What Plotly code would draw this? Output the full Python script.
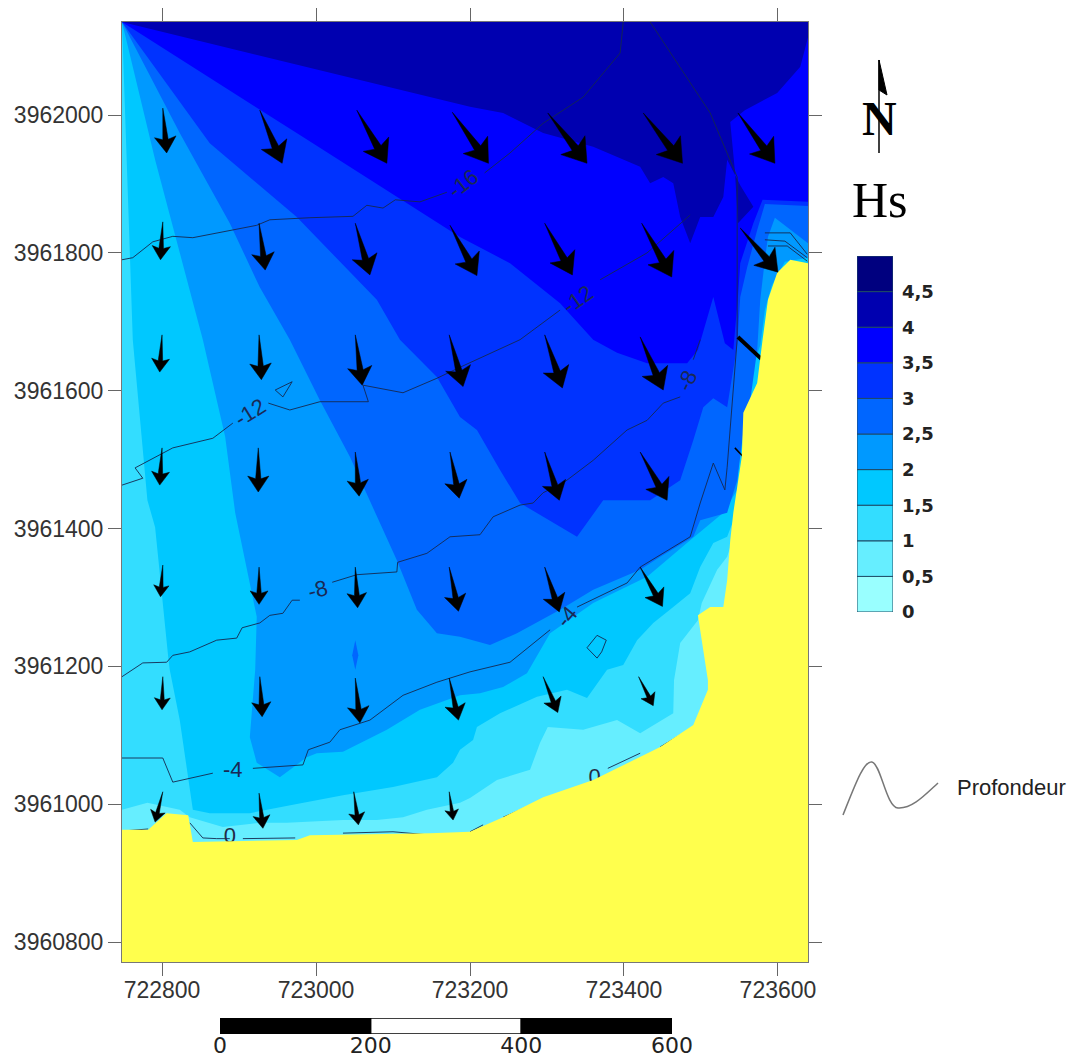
import math
import plotly.graph_objects as go

W, H = 1072, 1061
X_RANGE = [722748, 723639]
Y_RANGE = [3960771, 3962135]
CORNER_X, CORNER_Y = 722748, 3962135
RIGHT_X = 723639

# Hs legend
hs_levels = [0, 0.5, 1, 1.5, 2, 2.5, 3, 3.5, 4, 4.5]
hs_step = [0.5] * 10
hs_labels = ["0", "0,5", "1", "1,5", "2", "2,5", "3", "3,5", "4", "4,5"]
hs_colors = ["#99FFFF", "#66EEFF", "#33DDFF", "#00C8FF", "#0099FF",
             "#0066FF", "#0033FF", "#0000FF", "#0000B0", "#00007F"]

# Regions where Hs >= level (UTM metres), traced from the top right corner back to the top left corner
hs1_x = [723639, 723639, 723557, 723534, 723521, 723501, 723496, 723473, 723465, 723464, 723421, 723391, 723347, 723301, 723291, 723278, 723235, 723200, 723187, 723144, 723113, 723079, 723035, 722962, 722927, 722879, 722836, 722823, 722781, 722748]
hs1_y = [3962135, 3961732, 3961441, 3961359, 3961340, 3961292, 3961267, 3961234, 3961180, 3961132, 3961103, 3961122, 3961108, 3961112, 3961089, 3961050, 3961035, 3961009, 3961002, 3960992, 3960981, 3960977, 3960977, 3960973, 3960973, 3960967, 3960981, 3960992, 3961002, 3960992]

hs15_x = [723639, 723639, 723577, 723534, 723516, 723499, 723486, 723464, 723438, 723417, 723399, 723378, 723352, 723326, 723287, 723239, 723209, 723204, 723187, 723178, 723157, 723100, 723035, 722970, 722914, 722862, 722840, 722823, 722810, 722808, 722791, 722781, 722762]
hs15_y = [3962135, 3961732, 3961514, 3961388, 3961379, 3961344, 3961306, 3961286, 3961263, 3961238, 3961202, 3961195, 3961154, 3961166, 3961156, 3961132, 3961112, 3961093, 3961079, 3961060, 3961039, 3961025, 3961013, 3960999, 3960987, 3960987, 3960992, 3961122, 3961195, 3961214, 3961402, 3961441, 3961674]

hs2_x = [723639, 723639, 723609, 723592, 723583, 723577, 723566, 723557, 723551, 723547, 723529, 723486, 723430, 723360, 723304, 723274, 723243, 723213, 723187, 723135, 723092, 723035, 723001, 722988, 722953, 722923, 722914, 722921, 722923, 722895, 722882, 722853, 722791]
hs2_y = [3962135, 3961793, 3961787, 3961753, 3961717, 3961666, 3961630, 3961586, 3961528, 3961456, 3961423, 3961383, 3961330, 3961292, 3961248, 3961190, 3961170, 3961161, 3961158, 3961137, 3961108, 3961076, 3961074, 3961068, 3961039, 3961060, 3961097, 3961195, 3961272, 3961423, 3961533, 3961674, 3961935]

hs25_x = [723639, 723639, 723596, 723587, 723583, 723577, 723573, 723564, 723557, 723551, 723547, 723534, 723499, 723490, 723447, 723421, 723360, 723317, 723261, 723226, 723187, 723157, 723131, 723105, 723044, 723005, 722966, 722927, 722888, 722823]
hs25_y = [3962135, 3961814, 3961851, 3961823, 3961790, 3961732, 3961659, 3961586, 3961557, 3961504, 3961470, 3961423, 3961412, 3961388, 3961359, 3961340, 3961311, 3961282, 3961248, 3961231, 3961243, 3961248, 3961282, 3961354, 3961504, 3961586, 3961674, 3961750, 3961843, 3961974]

hs25_patch_x = [723051, 723055, 723051, 723047]
hs25_patch_y = [3961238, 3961216, 3961195, 3961216]

hs3_x = [723639, 723639, 723583, 723573, 723560, 723551, 723547, 723534, 723516, 723503, 723490, 723473, 723434, 723373, 723339, 723265, 723239, 723209, 723187, 723157, 723109, 723079, 722975, 722862]
hs3_y = [3962135, 3961868, 3961871, 3961833, 3961779, 3961736, 3961666, 3961576, 3961589, 3961576, 3961528, 3961470, 3961441, 3961441, 3961388, 3961437, 3961485, 3961543, 3961562, 3961620, 3961674, 3961732, 3961852, 3961959]

hs35_x = [723639, 723639, 723580, 723568, 723551, 723548, 723542, 723531, 723516, 723496, 723482, 723430, 723391, 723360, 723317, 723252, 723187, 722979]
hs35_y = [3962135, 3961874, 3961877, 3961843, 3961785, 3961736, 3961659, 3961669, 3961736, 3961659, 3961640, 3961640, 3961655, 3961674, 3961727, 3961785, 3961823, 3961971]

hs4_x = [723639, 723639, 723629, 723599, 723557, 723538, 723544, 723548, 723568, 723551, 723534, 723529, 723516, 723499, 723486, 723473, 723464, 723451, 723434, 723421, 723360, 723295, 723243, 723200]
hs4_y = [3962135, 3962113, 3962070, 3962032, 3962007, 3961990, 3961920, 3961843, 3961867, 3961898, 3961935, 3961881, 3961852, 3961852, 3961814, 3961852, 3961901, 3961910, 3961901, 3961925, 3961954, 3961974, 3962003, 3962012]

land_x = [723639, 723616, 723599, 723587, 723580, 723573, 723555, 723553, 723542, 723538, 723534, 723529, 723512, 723496, 723509, 723509, 723490, 723447, 723360, 723295, 723243, 723200, 723148, 722992, 722975, 722840, 722834, 722806, 722782, 722748, 722748, 723639]
land_y = [3961785, 3961790, 3961771, 3961732, 3961674, 3961611, 3961568, 3961504, 3961423, 3961383, 3961325, 3961286, 3961286, 3961274, 3961180, 3961166, 3961115, 3961083, 3961035, 3961010, 3960981, 3960960, 3960958, 3960955, 3960948, 3960945, 3960984, 3960987, 3960963, 3960963, 3960771, 3960771]

# Depth contours, segments split where the labels sit
depth_m16_x = [[722748, 722762, 722788, 722814, 722840, 722892, 722923, 722940, 722992, 723048, 723066, 723087, 723103, 723135, 723170],
               [723219, 723252, 723295, 723347, 723395, 723399],
               [723434, 723512, 723547, 723547]]
depth_m16_y = [[3961790, 3961793, 3961816, 3961824, 3961822, 3961833, 3961840, 3961848, 3961851, 3961853, 3961869, 3961865, 3961877, 3961874, 3961888],
               [3961916, 3961945, 3961988, 3962026, 3962090, 3962135],
               [3962135, 3962003, 3961910, 3961843]]
depth_m12_x = [[722748, 722775, 722765, 722814, 722866, 722892],
               [722938, 722966, 723005, 723068, 723061, 723113, 723157, 723187, 723265, 723317],
               [723369, 723430, 723486]]
depth_m12_y = [[3961463, 3961473, 3961488, 3961517, 3961531, 3961553],
               [3961582, 3961572, 3961584, 3961584, 3961608, 3961597, 3961618, 3961634, 3961674, 3961717],
               [3961761, 3961800, 3961855]]
depth_m8_x = [[722748, 722775, 722806, 722814, 722836, 722871, 722897, 722904, 722927, 722940, 722957, 722969, 722979],
              [723021, 723053, 723105, 723106, 723144, 723174, 723213, 723230, 723265, 723282, 723295, 723321, 723360, 723404, 723430, 723451, 723473],
              [723490, 723499]]
depth_m8_y = [[3961185, 3961205, 3961206, 3961216, 3961221, 3961238, 3961241, 3961256, 3961263, 3961274, 3961277, 3961296, 3961296],
              [3961322, 3961333, 3961337, 3961351, 3961364, 3961388, 3961391, 3961417, 3961434, 3961437, 3961452, 3961466, 3961499, 3961543, 3961557, 3961582, 3961591],
              [3961645, 3961674]]
depth_m4_x = [[722748, 722801, 722814, 722866],
              [722918, 722983, 722990, 723018, 723031, 723070, 723113, 723157, 723200, 723252, 723304],
              [723339, 723404, 723421, 723486, 723499, 723516, 723531, 723534, 723547, 723547]]
depth_m4_y = [[3961067, 3961067, 3961032, 3961045],
              [3961052, 3961057, 3961079, 3961090, 3961108, 3961122, 3961158, 3961177, 3961192, 3961206, 3961253],
              [3961286, 3961321, 3961344, 3961388, 3961437, 3961495, 3961456, 3961489, 3961674, 3961843]]
depth_0_x = [[722748, 722782], [722836, 722853, 722871, 722888], [722905, 722973], [723035, 723100, 723151],
             [723200, 723217], [723243, 723265, 723288], [723379, 723421], [723447, 723490]]
depth_0_y = [[3960961, 3960964], [3960973, 3960951, 3960950, 3960950], [3960950, 3960951], [3960958, 3960960, 3960955],
             [3960960, 3960970], [3960981, 3960992, 3961003], [3961052, 3961074], [3961083, 3961112]]
depth_small_x = [[722947, 722969, 722957, 722947], [723352, 723365, 723377, 723371, 723365, 723352],
                 [723583, 723609, 723638], [723587, 723612, 723638], [723583, 723616, 723638]]
depth_small_y = [[3961601, 3961613, 3961591, 3961601], [3961227, 3961245, 3961238, 3961221, 3961212, 3961227],
                 [3961819, 3961817, 3961793], [3961810, 3961810, 3961788], [3961829, 3961829, 3961798]]

label_text = ["-16", "-12", "-12", "-8", "-8", "-4", "-4"]
label_x = [723191, 722914, 723340, 723003, 723482, 722892, 723326]
label_y = [3961901, 3961569, 3961732, 3961311, 3961615, 3961050, 3961272]
label_angle = [-38, -32, -35, -15, -65, 0, -50]
zero_label_x = [722888, 723362]
zero_label_y = [3960951, 3961038]
zero_label_text = ["0", "0"]

# Wave direction arrows: tail position and displacement in metres
arrow_x = [722801, 722927, 723053, 723177, 723301, 723425, 723548,
           722801, 722926, 723051, 723174, 723297, 723423, 723551,
           722800, 722926, 723051, 723173, 723297, 723421,
           722800, 722925, 723051, 723174, 723297, 723421,
           722801, 722926, 723051, 723173, 723297, 723421,
           722801, 722927, 723051, 723173, 723295, 723419,
           722801, 722926, 723049, 723173]
arrow_y = [3962010, 3962007, 3962007, 3962004, 3962003, 3962003, 3962003,
           3961845, 3961843, 3961843, 3961840, 3961843, 3961843, 3961836,
           3961681, 3961681, 3961681, 3961681, 3961681, 3961678,
           3961517, 3961517, 3961511, 3961511, 3961511, 3961511,
           3961347, 3961344, 3961344, 3961344, 3961344, 3961344,
           3961185, 3961185, 3961183, 3961183, 3961185, 3961185,
           3961018, 3961016, 3961018, 3961018]
arrow_u = [5, 29, 39, 47, 51, 51, 48,
           -3, 8, 19, 35, 36, 39, 49,
           -3, 3, 9, 18, 23, 30,
           -3, 0, 5, 12, 19, 35,
           -3, 0, 3, 12, 19, 29,
           -1, 3, 6, 12, 19, 19,
           -10, 5, 6, 5]
arrow_v = [-65, -77, -77, -74, -73, -73, -73,
           -55, -68, -75, -73, -75, -78, -64,
           -54, -65, -73, -75, -77, -77,
           -54, -64, -64, -67, -70, -70,
           -46, -54, -59, -64, -65, -57,
           -48, -58, -65, -61, -52, -42,
           -44, -51, -48, -41]
# Arrows on the shore, mostly covered by the land
buried_x = [[723548, 723590], [723544, 723561]]
buried_y = [[3961678, 3961634], [3961517, 3961497]]
buried_width = [4, 1.5]

scale_base = [0, 200, 400]
scale_len = [200, 200, 200]
scale_colors = ["black", "white", "black"]
scale_ticks = [0, 200, 400, 600]

PLOT_L, PLOT_R, PLOT_T, PLOT_B = 122, 808, 22, 962
SX = (PLOT_R - PLOT_L) / (X_RANGE[1] - X_RANGE[0])
SY = (PLOT_B - PLOT_T) / (Y_RANGE[1] - Y_RANGE[0])


def px(x):
    return x / W


def py(y):
    return 1 - y / H


def arrow_polys():
    xs, ys = [], []
    for x0, y0, u, v in zip(arrow_x, arrow_y, arrow_u, arrow_v):
        dx, dy = u * SX, v * SY
        L = math.hypot(dx, dy)
        ax, ay = dx / L, dy / L
        nx, ny = -ay, ax
        outline = [(0, 0), (0.70, 0.06), (0.64, 0.24), (1, 0), (0.64, -0.24), (0.70, -0.06), (0, 0)]
        for a, n in outline:
            xs.append(x0 + (ax * a * L + nx * n * L) / SX)
            ys.append(y0 + (ay * a * L + ny * n * L) / SY)
        xs.append(None)
        ys.append(None)
    return xs, ys


def joined(parts):
    out = []
    for p in parts:
        out += list(p) + [None]
    return out


fig = go.Figure()


def band(xv, yv, color, closed_to_corner=True):
    xx = ([CORNER_X] + xv + [CORNER_X]) if closed_to_corner else xv + xv[:1]
    yy = ([CORNER_Y] + yv + [CORNER_Y]) if closed_to_corner else yv + yv[:1]
    fig.add_trace(go.Scatter(x=xx, y=yy, mode="lines", fill="toself", fillcolor=color,
                             line=dict(width=0, color=color), hoverinfo="skip", showlegend=False))


band(hs1_x, hs1_y, hs_colors[2])
band(hs15_x, hs15_y, hs_colors[3])
band(hs2_x, hs2_y, hs_colors[4])
band(hs25_x, hs25_y, hs_colors[5])
band(hs25_patch_x, hs25_patch_y, hs_colors[5], False)
band(hs3_x, hs3_y, hs_colors[6])
band(hs35_x, hs35_y, hs_colors[7])
band(hs4_x, hs4_y, hs_colors[8])

for parts_x, parts_y in [(depth_m16_x, depth_m16_y), (depth_m12_x, depth_m12_y), (depth_m8_x, depth_m8_y),
                         (depth_m4_x, depth_m4_y), (depth_0_x, depth_0_y), (depth_small_x, depth_small_y)]:
    fig.add_trace(go.Scatter(x=joined(parts_x), y=joined(parts_y), mode="lines",
                             line=dict(color="#15284f", width=0.9), connectgaps=False,
                             hoverinfo="skip", showlegend=False))

fig.add_trace(go.Scatter(x=zero_label_x, y=zero_label_y, text=zero_label_text, mode="text",
                         textposition="middle center",
                         textfont=dict(family="Liberation Sans", size=22, color="#222a44"),
                         hoverinfo="skip", showlegend=False))

for bx, by, bw in zip(buried_x, buried_y, buried_width):
    fig.add_trace(go.Scatter(x=bx, y=by, mode="lines", line=dict(color="black", width=bw),
                             hoverinfo="skip", showlegend=False))

fig.add_trace(go.Scatter(x=land_x + land_x[:1], y=land_y + land_y[:1], mode="lines", fill="toself",
                         fillcolor="#FFFF4D", line=dict(width=0, color="#FFFF4D"),
                         hoverinfo="skip", showlegend=False))

ax_, ay_ = arrow_polys()
fig.add_trace(go.Scatter(x=ax_, y=ay_, mode="lines", fill="toself", fillcolor="black",
                         line=dict(width=0.5, color="black"), hoverinfo="skip", showlegend=False))

# Hs legend as a column of stacked bars
fig.add_trace(go.Bar(x=[0] * len(hs_levels), y=hs_step, base=hs_levels, width=1, xaxis="x2", yaxis="y2",
                     marker=dict(color=hs_colors, line=dict(color="#1f4a66", width=1)),
                     hoverinfo="skip", showlegend=False))

# Scale bar
fig.add_trace(go.Bar(y=[0, 0, 0], x=scale_len, base=scale_base, width=1, orientation="h", xaxis="x3", yaxis="y3",
                     marker=dict(color=scale_colors, line=dict(color="black", width=1.5)),
                     hoverinfo="skip", showlegend=False))

annotations = []
for t, x, y, a in zip(label_text, label_x, label_y, label_angle):
    annotations.append(dict(x=x, y=y, xref="x", yref="y", text=t, showarrow=False, textangle=a,
                            xanchor="center", yanchor="middle",
                            font=dict(family="Liberation Sans", size=22, color="#1a2a55")))
annotations.append(dict(x=px(880), y=py(200), xref="paper", yref="paper", text="Hs", showarrow=False,
                        xanchor="center", yanchor="middle",
                        font=dict(family="Liberation Serif", size=50, color="black")))
annotations.append(dict(x=px(879), y=py(119), xref="paper", yref="paper", text="<b>N</b>", showarrow=False,
                        xanchor="center", yanchor="middle",
                        font=dict(family="Liberation Serif", size=48, color="black")))
annotations.append(dict(x=px(1011), y=py(787), xref="paper", yref="paper", text="Profondeur", showarrow=False,
                        xanchor="center", yanchor="middle",
                        font=dict(family="Liberation Sans", size=22, color="#222")))


def path(points, close=False):
    s = "M " + " L ".join(f"{px(a):.5f},{py(b):.5f}" for a, b in points)
    return s + (" Z" if close else "")


shapes = [
    dict(type="line", xref="paper", yref="paper", x0=px(879), x1=px(879), y0=py(60), y1=py(153),
         line=dict(color="black", width=1.5)),
    dict(type="path", xref="paper", yref="paper", path=path([(879, 60), (887, 95), (879, 90)], True),
         fillcolor="black", line=dict(color="black", width=1)),
    dict(type="path", xref="paper", yref="paper",
         path=(f"M {px(843)},{py(815)} C {px(855)},{py(785)} {px(864)},{py(760)} {px(872)},{py(762)} "
               f"C {px(881)},{py(764)} {px(886)},{py(807)} {px(898)},{py(808)} "
               f"C {px(912)},{py(809)} {px(925)},{py(795)} {px(938)},{py(783)}"),
         line=dict(color="#777", width=1.5)),
]

tickstyle = dict(ticks="outside", ticklen=13, tickwidth=1, tickcolor="#666", showline=True, linecolor="#777",
                 linewidth=1, mirror="ticks", showgrid=False, zeroline=False, automargin=False,
                 tickfont=dict(family="Liberation Sans", size=23, color="#333"), tickformat="d")

fig.update_layout(
    template="none",
    width=W, height=H, autosize=False, margin=dict(l=0, r=0, t=0, b=0, pad=0),
    paper_bgcolor="white", plot_bgcolor=hs_colors[1], barmode="overlay", showlegend=False,
    annotations=annotations, shapes=shapes,
    xaxis=dict(domain=[px(PLOT_L), px(PLOT_R)], range=X_RANGE, tick0=722800, dtick=200, anchor="y",
               ticklabelstandoff=-6, **tickstyle),
    yaxis=dict(domain=[py(PLOT_B), py(PLOT_T)], range=Y_RANGE, tick0=3960800, dtick=200, anchor="x", **tickstyle),
    xaxis2=dict(domain=[px(857), px(893)], range=[-0.5, 0.5], visible=False, anchor="y2", automargin=False),
    yaxis2=dict(domain=[py(612), py(256)], range=[0, 5], anchor="x2", side="right", tickvals=hs_levels,
                ticktext=hs_labels, ticks="", showgrid=False, zeroline=False, showline=False, automargin=False,
                ticklabelstandoff=8,
                tickfont=dict(family="DejaVu Sans", size=18, color="#222", weight="bold")),
    xaxis3=dict(domain=[px(220), px(672)], range=[0, 600], anchor="y3", side="bottom", tickvals=scale_ticks,
                ticks="", showgrid=False, zeroline=False, showline=False, ticklabelstandoff=-4, automargin=False,
                tickfont=dict(family="DejaVu Sans", size=22, color="#222")),
    yaxis3=dict(domain=[py(1034), py(1018)], range=[-0.5, 0.5], visible=False, anchor="x3", automargin=False),
)

fig.write_html("out.html", config={"displayModeBar": False},
               post_script="document.body.style.margin='0';document.documentElement.style.overflow='hidden';")
